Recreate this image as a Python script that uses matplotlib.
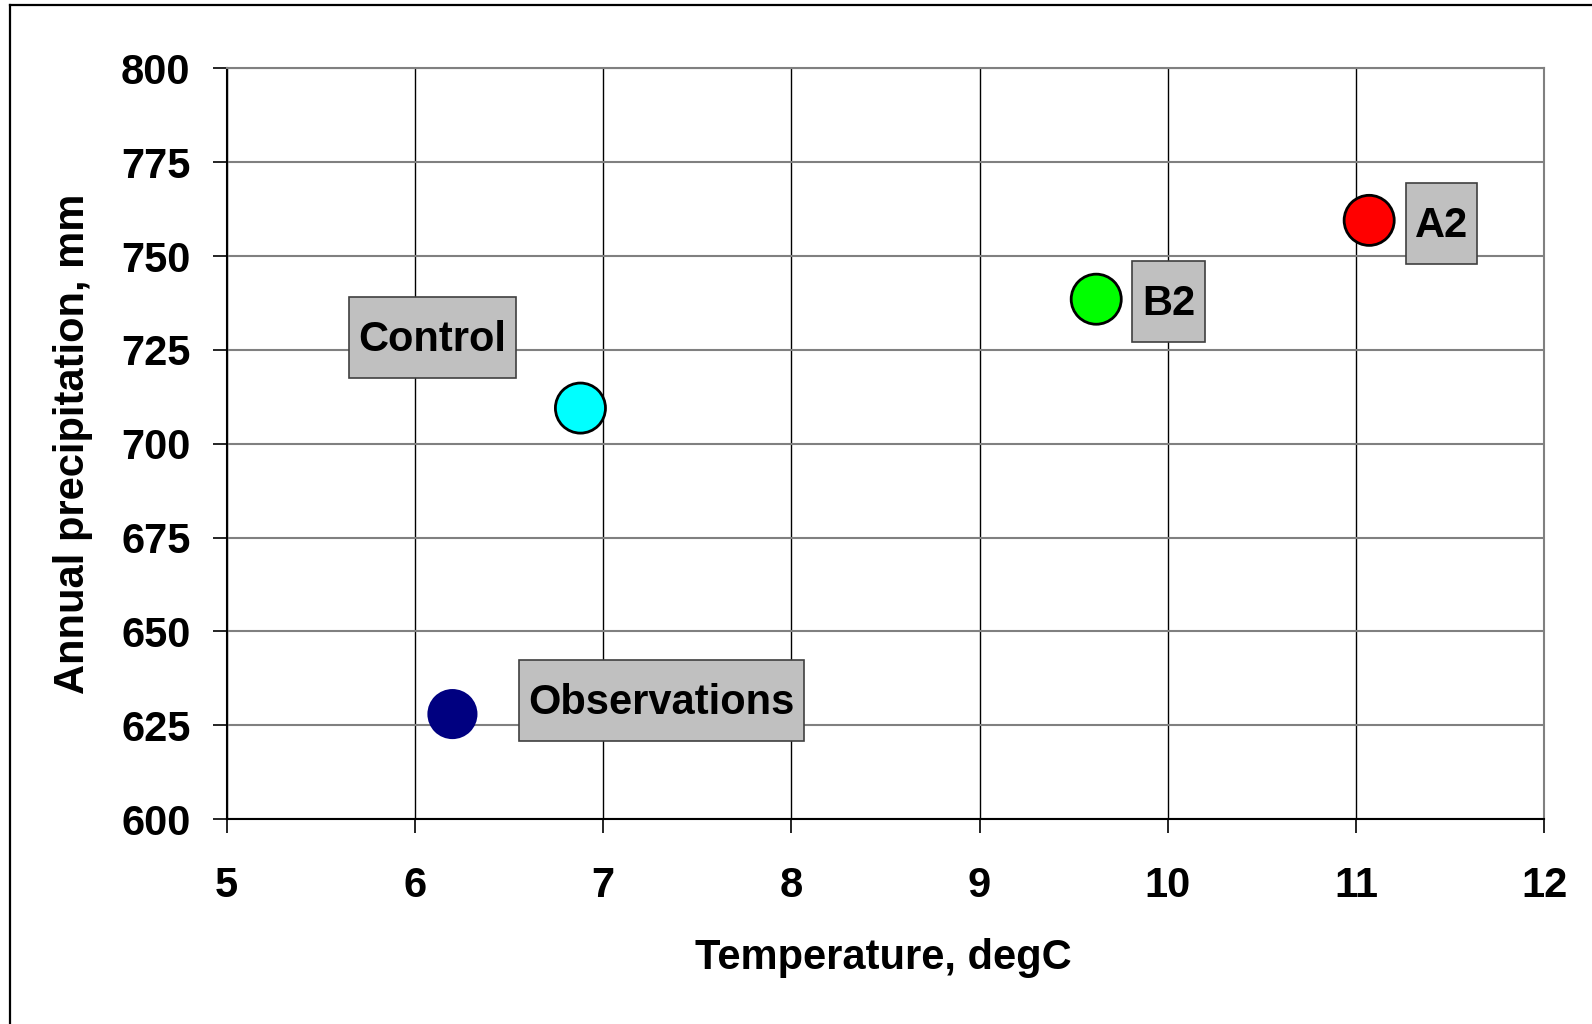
import matplotlib
matplotlib.use('Agg')
import matplotlib.pyplot as plt
from matplotlib.patches import Rectangle
from matplotlib.lines import Line2D

# --- data ---
series = ['Observations', 'Control', 'B2', 'A2']
temperature = [6.20, 6.88, 9.62, 11.07]      # degC
precipitation = [628.0, 709.5, 738.5, 759.5]  # mm

# --- styling / label layout ---
colors = ['#000080', '#00FFFF', '#00FF00', '#FF0000']
edges = ['none', 'black', 'black', 'black']
label_xy = [(7.309, 631.6), (6.094, 728.2), (10.006, 737.8), (11.455, 758.7)]
label_w = [1.512, 0.887, 0.388, 0.374]  # box widths, data units
label_h = 21.6

plt.rcParams['font.family'] = ['Liberation Sans', 'DejaVu Sans']
plt.rcParams['font.weight'] = 'bold'
plt.rcParams['font.size'] = 30

fig = plt.figure(figsize=(15.92, 10.24), dpi=100)
ax = fig.add_axes([0.1423, 0.2, 0.970 - 0.1423, 0.9333 - 0.2])

# grid: vertical black, horizontal grey
for xv in range(5, 13):
    ax.axvline(xv, color='black', lw=1.0, zorder=1)
for yv in range(600, 801, 25):
    ax.axhline(yv, color='#808080', lw=1.5, zorder=1)

# label boxes
for name, (lx, ly), w in zip(series, label_xy, label_w):
    ax.add_patch(Rectangle((lx - w / 2, ly - label_h / 2), w, label_h,
                           facecolor='#C0C0C0', edgecolor='#404040', lw=1.2, zorder=3))
    ax.text(lx, ly - 0.6, name, ha='center', va='center', fontweight='bold', zorder=4)

# points
ax.scatter(temperature, precipitation, s=1300, c=colors, edgecolors=edges,
           linewidths=2.0, zorder=5)

ax.set_xlim(5, 12)
ax.set_ylim(600, 800)
ax.set_xticks(range(5, 13))
ax.set_yticks(range(600, 801, 25))
ax.tick_params(axis='both', direction='out', length=10, width=1.2, color='black')
ax.tick_params(axis='x', pad=24)
ax.tick_params(axis='y', pad=16)

for s in ['left', 'bottom']:
    ax.spines[s].set_color('black')
    ax.spines[s].set_linewidth(1.5)
for s in ['top', 'right']:
    ax.spines[s].set_color('#808080')
    ax.spines[s].set_linewidth(1.5)

ax.set_xlabel('Temperature, degC', fontweight='bold', va='center')
ax.set_ylabel('Annual precipitation, mm', fontweight='bold', va='center')
ax.xaxis.set_label_coords(0.4985, -0.1853)
ax.yaxis.set_label_coords(-0.1165, 0.5)

# outer frame lines (left and top) seen in the image
fig.add_artist(Line2D([0.0063, 0.0063], [0, 0.9951], color='black', lw=1.6))
fig.add_artist(Line2D([0.0063, 1], [0.9951, 0.9951], color='black', lw=1.6))

fig.savefig('out.png', dpi=100)
